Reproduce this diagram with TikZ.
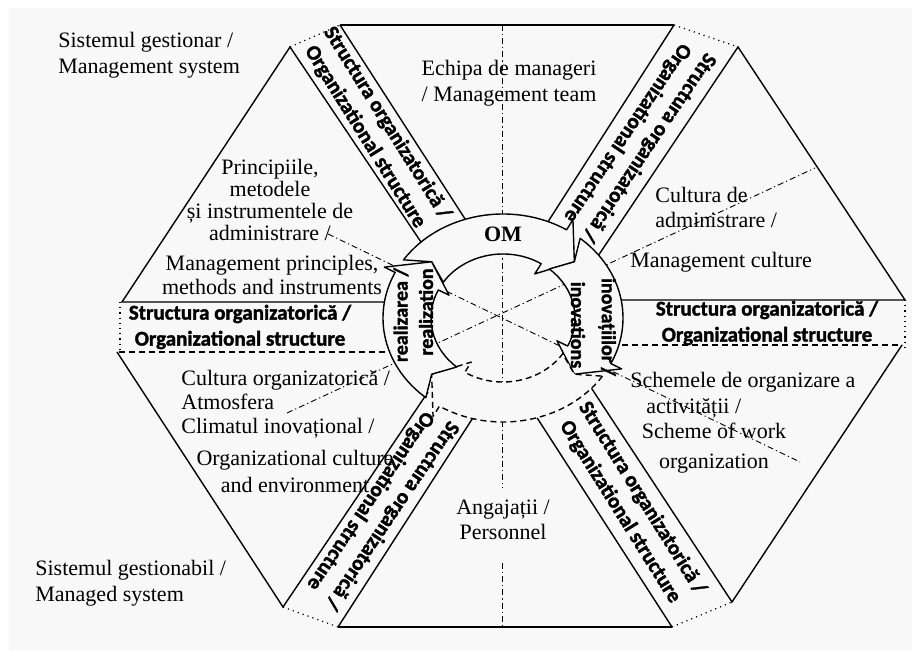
\documentclass[tikz,border=0pt]{standalone}
\usepackage{fontspec}
\setmainfont{Liberation Serif}
\newfontfamily\bandfont{Carlito}[BoldFeatures={FakeBold=1.6}]
\usepackage{tikz}
\usetikzlibrary{calc}
\definecolor{paper}{RGB}{248,248,248}

% one block arrow of the ring: [style] tail angle, tip angle
\newcommand\ringarrow[3][]{%
  \draw[ringarr,#1] (#2:120 and 104)
    arc[start angle=#2, end angle={#3+16}, x radius=120, y radius=104]
    -- ({#3+16}:132 and 116) -- (#3:96 and 84) -- ({#3+16}:60 and 52)
    -- ({#3+16}:72 and 64)
    arc[start angle={#3+16}, end angle=#2, x radius=72, y radius=64]
    -- ({#2-8}:96 and 84) -- cycle;}

\begin{document}
\begin{tikzpicture}[x=0.5pt,y=-0.5pt,
  edge/.style={line width=0.7pt},
  thickedge/.style={line width=1.2pt},
  dots/.style={dotted, line width=0.6pt},
  axis/.style={dash pattern=on 3pt off 1.5pt on 0.6pt off 1.5pt, line width=0.45pt},
  ringarr/.style={draw, fill=paper, line width=0.7pt, line join=round},
  lbl/.style={font=\fontsize{11}{13}\selectfont, inner sep=0pt},
  bandtxt/.style={font=\bandfont\bfseries\fontsize{10.5}{13}\selectfont, align=center, inner sep=0pt},
  ringtxt/.style={font=\bandfont\bfseries\fontsize{10}{12}\selectfont, inner sep=0pt}]

\useasboundingbox (0,0) rectangle (912,652);
\fill[paper] (9,8) rectangle (912,650);

% axes through the centre
\draw[axis] (502,25) -- (502,488);
\draw[axis] (502,563) -- (502,627);
\draw[axis] (328,234) -- (800,462);
\draw[axis] (287,413) -- (815,168);

% top and bottom trapezoids
\draw[thickedge] (340,25) -- (674,25);
\draw[edge] (340,25) -- (467,222);
\draw[edge] (674,25) -- (544,228);
\draw[thickedge] (338,627) -- (672,627);
\draw[edge] (338,627) -- (478,410);
\draw[edge] (672,627) -- (532,410);

% triangles
\draw[edge] (425,248) -- (290,47) -- (122,302) -- (390,302);
\draw[edge] (590,268) -- (738,47) -- (905,300) -- (615,300);
\draw[edge, densely dashed] (395,352) -- (117,352);
\draw[edge] (117,352) -- (283,607) -- (428,392);
\draw[edge, densely dashed] (612,345) -- (902,345);
\draw[edge] (902,345) -- (732,602) -- (590,386);

% band ends
\draw[dots] (290,47) -- (340,25);
\draw[dots] (674,25) -- (738,47);
\draw[dots] (283,607) -- (338,627);
\draw[dots] (672,627) -- (732,602);
\draw[dots] (120,302) -- (120,352);
\draw[dots] (905,300) -- (905,347);

% ring of arrows
\begin{scope}[shift={(503,318)}, y=0.5pt]
  \ringarrow{146}{42}
  \ringarrow{50}{-42}
  \ringarrow[densely dashed]{-34}{-138}
  \ringarrow{-130}{-222}
\end{scope}

\node[font=\bfseries\fontsize{11}{13}\selectfont, inner sep=0pt] (om) at (503,234) {OM};
\node[ringtxt, rotate=90] (realro) at (401,315) {realizarea /};
\node[ringtxt, rotate=90] (realen) at (426,312) {realization};
\node[ringtxt, rotate=-90] (inovro) at (607,327) {inovațiilor /};
\node[ringtxt, rotate=-90] (inoven) at (578,325) {inovations};

% bands
\node[bandtxt, rotate=-58] (band1) at (376,130) {Structura organizatorică /\\Organizational structure};
\node[bandtxt, rotate=236] (band2) at (638,140) {Structura organizatorică /\\Organizational structure};
\node[bandtxt] (band3) at (767,323) {Structura organizatorică /\\Organizational structure};
\node[bandtxt, rotate=-58] (band4) at (631,505) {Structura organizatorică /\\Organizational structure};
\node[bandtxt, rotate=236] (band5) at (381,508) {Structura organizatorică /\\Organizational structure};
\node[bandtxt] (band6) at (240,327) {Structura organizatorică /\\Organizational structure};

% labels
\node[lbl, anchor=west, align=left] (mgmt) at (58,55) {Sistemul gestionar /\\Management system};
\node[lbl, anchor=west, align=left] (managed) at (35,583) {Sistemul gestionabil /\\Managed system};
\node[lbl, align=center] (team) at (509,83) {Echipa de manageri\\/ Management team};
\node[lbl, align=center, font=\fontsize{11}{11}\selectfont] (princro) at (270,200)
  {Principiile,\\metodele\\și instrumentele de\\administrare /};
\node[lbl, align=center, font=\fontsize{11}{12}\selectfont] (princen) at (272,275)
  {Management principles,\\methods and instruments};
\node[lbl, anchor=west, align=left, font=\fontsize{11}{12.5}\selectfont] (cultro) at (655,207)
  {Cultura de\\administrare /};
\node[lbl, anchor=west] (culten) at (630,262) {Management culture};
\node[lbl, anchor=west, align=left, font=\fontsize{11}{12}\selectfont] (orgro) at (181,404)
  {Cultura organizatorică /\\Atmosfera\\Climatul inovațional /};
\node[lbl, align=center, font=\fontsize{11}{13.5}\selectfont] (orgen) at (295,471)
  {Organizational culture\\and environment};
\node[lbl, anchor=west, align=left] (workro) at (630,395)
  {Schemele de organizare a\\\hspace*{8pt}activității /};
\node[lbl, align=center, font=\fontsize{11}{15}\selectfont] (worken) at (714,448)
  {Scheme of work\\organization};
\node[lbl, align=center, font=\fontsize{11}{12.5}\selectfont] (staff) at (503,520)
  {Angajații /\\Personnel};
\end{tikzpicture}
\end{document}
